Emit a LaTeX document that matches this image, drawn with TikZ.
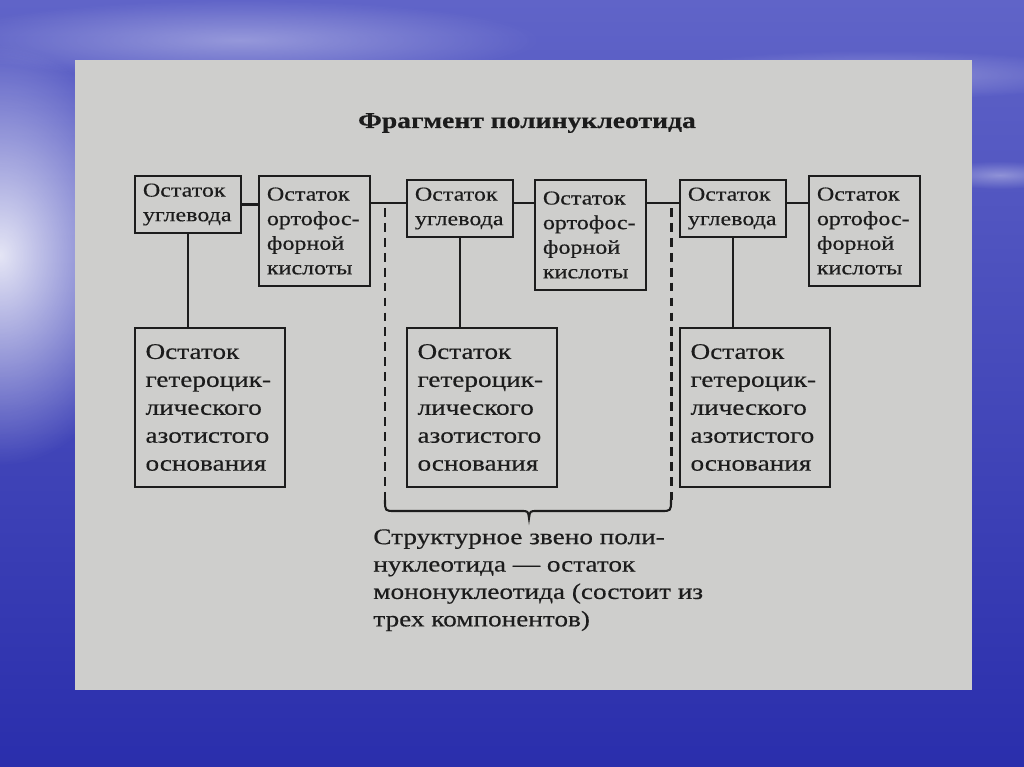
\documentclass[tikz,border=0pt]{standalone}
\usepackage{fontspec}
\setmainfont{Liberation Serif}[FakeStretch=1.22,FakeBold=0.4]
\usepackage{xcolor}
\usetikzlibrary{positioning,calc,fadings}

\definecolor{skytop}{RGB}{96,100,200}
\definecolor{skybot}{RGB}{42,46,172}
\definecolor{paper}{RGB}{206,206,204}
\definecolor{ink}{RGB}{28,28,28}
\tikzfading[name=glowfade,inner color=transparent!0,outer color=transparent!100]

\begin{document}
\begin{tikzpicture}[x=0.02cm,y=-0.02cm,
  part/.style={draw=ink,line width=1.15pt,anchor=north west,inner ysep=0pt,align=left,text=ink},
  sugar/.style={part,inner xsep=4.5pt,text width=1.80cm,minimum height=1.14cm,font=\fontsize{11.2}{14}\selectfont},
  acid/.style={part,inner xsep=4.5pt,text width=1.90cm,minimum height=2.2cm,font=\fontsize{11.2}{14}\selectfont},
  basebox/.style={part,inner xsep=6pt,text width=2.58cm,minimum height=3.18cm,font=\fontsize{12.7}{15.9}\selectfont},
  link/.style={draw=ink,line width=1.15pt},
  unitline/.style={link,line width=1.7pt,dash pattern=on 5pt off 3.5pt}]
\useasboundingbox (0,0) rectangle (1024,767);
% sky behind the slide
\fill[top color=skytop,bottom color=skybot] (0,0) rectangle (1024,767);
\fill[white,path fading=glowfade,opacity=0.85] (0,255) ellipse (150 and 210);
\fill[white,path fading=glowfade,opacity=0.35] (240,40) ellipse (300 and 40);
\fill[white,path fading=glowfade,opacity=0.3] (880,75) ellipse (220 and 25);
\fill[white,path fading=glowfade,opacity=0.35] (1000,175) ellipse (70 and 14);
\fill[paper] (75,60) rectangle (972,690);

\node[font=\fontsize{12.9}{16}\selectfont\bfseries,text=ink,anchor=base] (title) at (527,128) {Фрагмент полинуклеотида};

% sugar / phosphate chain
\node[sugar] (s1) at (134,175) {Остаток\\углевода};
\node[acid] (p1) at (258,175) {Остаток\\ортофос-\\форной\\кислоты};
\node[sugar] (s2) at (406,179) {Остаток\\углевода};
\node[acid] (p2) at (534,179) {Остаток\\ортофос-\\форной\\кислоты};
\node[sugar] (s3) at (679,179) {Остаток\\углевода};
\node[acid] (p3) at (808,175) {Остаток\\ортофос-\\форной\\кислоты};

% bases
\node[basebox] (b1) at (134,327) {Остаток\\гетероцик-\\лического\\азотистого\\основания};
\node[basebox] (b2) at (406,327) {Остаток\\гетероцик-\\лического\\азотистого\\основания};
\node[basebox] (b3) at (679,327) {Остаток\\гетероцик-\\лического\\азотистого\\основания};

\draw[link] (s1.east) -- (s1.east -| p1.west);
\draw[link] ([yshift=3pt]s2.west) -- ([yshift=3pt]s2.west -| p1.east);
\draw[link] ([yshift=3pt]s2.east) -- ([yshift=3pt]s2.east -| p2.west);
\draw[link] ([yshift=3pt]s3.west) -- ([yshift=3pt]s3.west -| p2.east);
\draw[link] ([yshift=3pt]s3.east) -- ([yshift=3pt]s3.east -| p3.west);
\foreach \i in {1,2,3}
  \draw[link] (s\i.south) -- (s\i.south |- b\i.north);

% one nucleotide unit
\coordinate (unitL) at (385,208);
\coordinate (unitR) at (671,208);
\draw[unitline] (unitL) -- ++(0,292);
\draw[unitline] (unitR) -- ++(0,292);
\draw[link,line width=1.2pt] (385,500) .. controls (385,511) .. (395,511) -- (521,511)
  .. controls (528,511) .. (529,518) .. controls (530,511) .. (537,511) -- (661,511)
  .. controls (671,511) .. (671,500);
\node[anchor=north west,align=left,inner sep=0pt,text=ink,font=\fontsize{12.7}{15.6}\selectfont] (note) at (373,529)
  {Структурное звено поли-\\нуклеотида — остаток\\мононуклеотида (состоит из\\трех компонентов)};
\end{tikzpicture}
\end{document}
